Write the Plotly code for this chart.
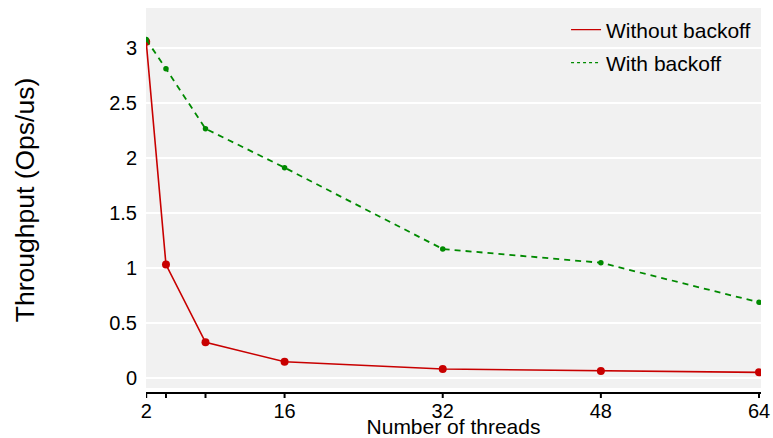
import plotly.graph_objects as go

threads = [2, 4, 8, 16, 32, 48, 64]
without_backoff = [3.06, 1.03, 0.322, 0.146, 0.079, 0.061, 0.049]
with_backoff = [3.08, 2.814, 2.268, 1.913, 1.172, 1.047, 0.687]
x_tickvals = [2, 4, 8, 16, 32, 48, 64]
x_ticktext = ["2", "", "", "16", "32", "48", "64"]
y_tickvals = [0, 0.5, 1, 1.5, 2, 2.5, 3]
y_ticktext = ["0", "0.5", "1", "1.5", "2", "2.5", "3"]

FONT = "Liberation Sans, Arial, Helvetica, sans-serif"
RED = "#C80000"
GREEN = "#008A00"

fig = go.Figure()
fig.add_trace(go.Scatter(
    x=threads, y=without_backoff, mode="lines+markers", name="Without backoff",
    line=dict(color=RED, width=1.6), marker=dict(color=RED, size=8),
    showlegend=False,
))
fig.add_trace(go.Scatter(
    x=threads, y=with_backoff, mode="lines+markers", name="With backoff",
    line=dict(color=GREEN, width=1.8, dash="6px,5px"), marker=dict(color=GREEN, size=5.5),
    showlegend=False,
))
# legend-only entries (lines without markers, as in the reference)
fig.add_trace(go.Scatter(
    x=[None], y=[None], mode="lines", name="Without backoff",
    line=dict(color=RED, width=1.2), legend="legend",
))
fig.add_trace(go.Scatter(
    x=[None], y=[None], mode="lines", name="With backoff",
    line=dict(color=GREEN, width=1.2, dash="3px,3px"), legend="legend2",
))

H = 384.0
fig.add_shape(type="rect", xref="paper", yref="paper", x0=0, x1=1,
              y0=4 / H, y1=1, fillcolor="#F1F1F1", line=dict(width=0), layer="below")
# x tick marks (drawn as shapes so the tick labels sit close to the axis)
for tv in x_tickvals:
    fig.add_shape(type="line", xref="x", yref="paper", x0=tv, x1=tv,
                  y0=0, y1=-6 / H, line=dict(color="black", width=2), layer="above")

fig.update_layout(
    width=773, height=438,
    margin=dict(l=146, r=11.5, t=8, b=46, autoexpand=False),
    paper_bgcolor="white", plot_bgcolor="white",
    font=dict(family=FONT, size=20, color="black"),
    showlegend=True,
    legend=dict(x=0.683, xanchor="left", y=(392 - 30) / H, yanchor="middle",
                bgcolor="rgba(0,0,0,0)", font=dict(size=21), itemwidth=30),
    legend2=dict(x=0.683, xanchor="left", y=(392 - 63) / H, yanchor="middle",
                 bgcolor="rgba(0,0,0,0)", font=dict(size=21), itemwidth=30),
    xaxis=dict(
        range=[1.98, 64.2], tickvals=x_tickvals, ticktext=x_ticktext,
        showgrid=False, zeroline=False, showline=True, linecolor="black", linewidth=2,
        ticks="", tickfont=dict(size=20), automargin=False,
        title=dict(text="Number of threads", font=dict(size=21), standoff=6),
    ),
    yaxis=dict(
        range=[-0.130, 3.367], tickvals=y_tickvals, ticktext=y_ticktext,
        showgrid=True, gridcolor="white", gridwidth=2, zeroline=False,
        showline=False, ticks="", tickfont=dict(size=20), automargin=False,
        ticklabelstandoff=8,
        title=dict(text="Throughput (Ops/us)", font=dict(size=26.5), standoff=66),
    ),
)

fig.write_html("out.html", config={"displayModeBar": False},
               post_script="document.body.style.margin='0';document.body.style.overflow='hidden';")
